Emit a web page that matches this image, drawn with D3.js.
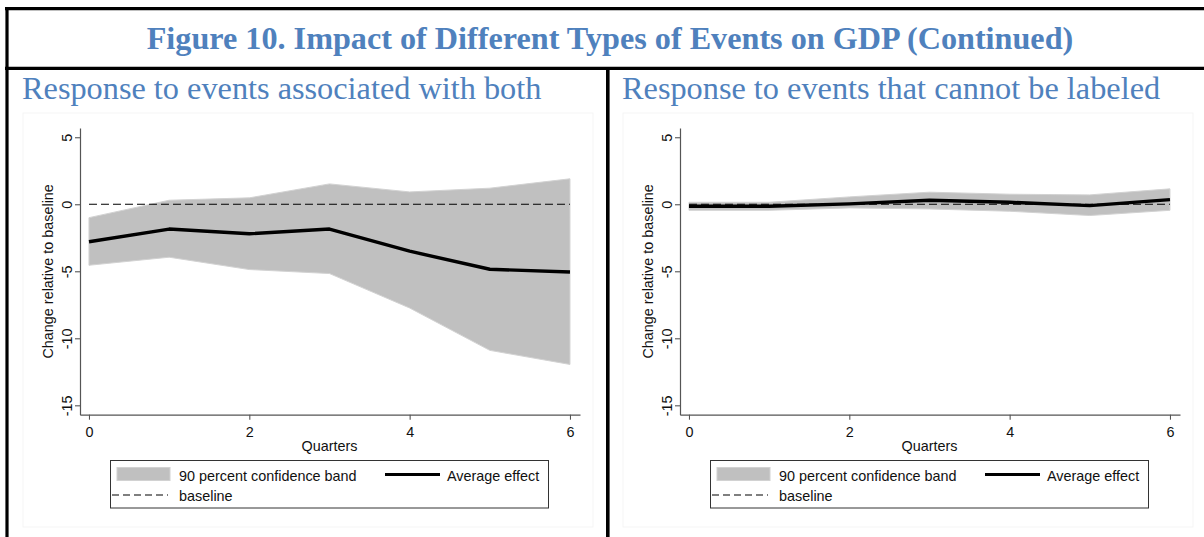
<!DOCTYPE html>
<html>
<head>
<meta charset="utf-8">
<script src="https://cdn.jsdelivr.net/npm/d3@7/dist/d3.min.js"></script>
<style>
  html, body { margin: 0; padding: 0; background: #fff; }
  svg { display: block; }
</style>
</head>
<body>
<svg id="fig" width="1204" height="537"></svg>
<script>
// Horizon in quarters after the event
const quarters = [0, 1, 2, 3, 4, 5, 6];

// Events associated with both
const bothMean  = [-2.8, -1.85, -2.2, -1.85, -3.5, -4.85, -5.05];
const bothUpper = [-1.0, 0.3, 0.48, 1.52, 0.92, 1.2, 1.9];
const bothLower = [-4.55, -3.95, -4.87, -5.17, -7.74, -10.9, -11.95];

// Events that cannot be labeled
const unlMean  = [-0.15, -0.15, 0.03, 0.3, 0.15, -0.1, 0.35];
const unlUpper = [0.15, 0.15, 0.55, 0.9, 0.75, 0.7, 1.15];
const unlLower = [-0.45, -0.45, -0.27, -0.35, -0.52, -0.84, -0.45];

const yTicks = [5, 0, -5, -10, -15];
const xTicks = [0, 2, 4, 6];

const figTitle = "Figure 10. Impact of Different Types of Events on GDP (Continued)";
const panelTitles = ["Response to events associated with both", "Response to events that cannot be labeled"];
const yLabel = "Change relative to baseline";
const xLabel = "Quarters";
const legendLabels = ["90 percent confidence band", "Average effect", "baseline"];

const BLUE = "#4f81bd";
const BAND = "#c0c0c0";
const SERIF = "'Liberation Serif', 'Times New Roman', serif";
const SANS = "'Liberation Sans', Arial, sans-serif";
const FS = 14.4;

const svg = d3.select("#fig");

// Frame and figure title
svg.append("rect").attr("x", 0).attr("y", 0).attr("width", 1204).attr("height", 537).attr("fill", "#fff");
svg.append("text")
  .attr("x", 610).attr("y", 49)
  .attr("text-anchor", "middle")
  .attr("font-family", SERIF).attr("font-weight", "bold").attr("font-size", 32.2)
  .attr("fill", BLUE)
  .text(figTitle);

const frame = svg.append("g").attr("stroke", "#000").attr("stroke-width", 3.2);
frame.append("line").attr("x1", 5).attr("x2", 1204).attr("y1", 8.7).attr("y2", 8.7);
frame.append("line").attr("x1", 5).attr("x2", 1204).attr("y1", 68.3).attr("y2", 68.3);
frame.append("line").attr("x1", 7).attr("x2", 7).attr("y1", 7).attr("y2", 537);
frame.append("line").attr("x1", 607.8).attr("x2", 607.8).attr("y1", 68).attr("y2", 537).attr("stroke-width", 3.6);

function panel(offsetX, title, mean, upper, lower) {
  const g = svg.append("g").attr("transform", `translate(${offsetX},0)`);

  // faint graph region outline
  g.append("rect")
    .attr("x", 23).attr("y", 113).attr("width", 570).attr("height", 414)
    .attr("fill", "none").attr("stroke", "#f5f5f5").attr("stroke-width", 1);

  g.append("text")
    .attr("x", 22).attr("y", 99)
    .attr("font-family", SERIF).attr("font-size", 32.3)
    .attr("fill", BLUE)
    .text(title);

  const x = d3.scaleLinear().domain([-0.112, 6.125]).range([80, 580]);
  const y = d3.scaleLinear().domain([-15.7, 5.69]).range([414.7, 128]);

  // confidence band
  const area = d3.area()
    .x((d, i) => x(quarters[i]))
    .y0((d, i) => y(lower[i]))
    .y1((d, i) => y(upper[i]));
  g.append("path")
    .datum(quarters)
    .attr("d", area)
    .attr("fill", BAND)
    .attr("stroke", "#d2d2d2").attr("stroke-width", 1);

  // baseline
  g.append("line")
    .attr("x1", x(0)).attr("x2", x(6))
    .attr("y1", y(0)).attr("y2", y(0))
    .attr("stroke", "#000").attr("stroke-width", 1.1)
    .attr("stroke-dasharray", "8,4");

  // average effect
  const line = d3.line()
    .x((d, i) => x(quarters[i]))
    .y((d, i) => y(mean[i]));
  g.append("path")
    .datum(mean)
    .attr("d", line)
    .attr("fill", "none")
    .attr("stroke", "#000").attr("stroke-width", 3.4)
    .attr("stroke-linejoin", "round");

  // y axis
  const yAxis = g.append("g").attr("transform", "translate(80,0)")
    .call(d3.axisLeft(y).tickValues(yTicks).tickSize(5).tickSizeOuter(0).tickFormat(d3.format("d")));
  yAxis.select(".domain").attr("stroke", "#555").attr("stroke-width", 1.2);
  yAxis.selectAll(".tick line").attr("stroke", "#555").attr("stroke-width", 1.1);
  yAxis.selectAll(".tick text")
    .attr("x", null).attr("dy", null)
    .attr("transform", "translate(-8,0) rotate(-90)")
    .attr("text-anchor", "middle")
    .attr("font-family", SANS).attr("font-size", FS).attr("fill", "#111")
    .text(d => d < 0 ? "-" + Math.abs(d) : d);

  // x axis
  const xAxis = g.append("g").attr("transform", "translate(0,414.7)")
    .call(d3.axisBottom(x).tickValues(xTicks).tickSize(5).tickSizeOuter(0).tickFormat(d3.format("d")));
  xAxis.select(".domain").attr("stroke", "#555").attr("stroke-width", 1.2);
  xAxis.selectAll(".tick line").attr("stroke", "#555").attr("stroke-width", 1.1);
  xAxis.selectAll(".tick text")
    .attr("y", 22.5).attr("dy", null)
    .attr("font-family", SANS).attr("font-size", FS).attr("fill", "#111");

  // axis titles
  g.append("text")
    .attr("transform", `translate(53,${(128 + 414.7) / 2}) rotate(-90)`)
    .attr("text-anchor", "middle")
    .attr("font-family", SANS).attr("font-size", FS).attr("fill", "#111")
    .text(yLabel);
  g.append("text")
    .attr("x", (x(0) + x(6)) / 2).attr("y", 451)
    .attr("text-anchor", "middle")
    .attr("font-family", SANS).attr("font-size", FS).attr("fill", "#111")
    .text(xLabel);

  // legend
  const lg = g.append("g");
  lg.append("rect")
    .attr("x", 110.5).attr("y", 460.5).attr("width", 438).attr("height", 47.5)
    .attr("fill", "#fff").attr("stroke", "#333").attr("stroke-width", 1);
  lg.append("rect")
    .attr("x", 117).attr("y", 467.5).attr("width", 53).attr("height", 13)
    .attr("fill", BAND).attr("stroke", "#d2d2d2").attr("stroke-width", 1);
  lg.append("text")
    .attr("x", 179).attr("y", 480.5)
    .attr("font-family", SANS).attr("font-size", FS).attr("fill", "#111")
    .text(legendLabels[0]);
  lg.append("line")
    .attr("x1", 385).attr("x2", 440).attr("y1", 474.5).attr("y2", 474.5)
    .attr("stroke", "#000").attr("stroke-width", 3.2);
  lg.append("text")
    .attr("x", 447).attr("y", 480.5)
    .attr("font-family", SANS).attr("font-size", FS).attr("fill", "#111")
    .text(legendLabels[1]);
  lg.append("line")
    .attr("x1", 112).attr("x2", 168).attr("y1", 495).attr("y2", 495)
    .attr("stroke", "#000").attr("stroke-width", 1.1)
    .attr("stroke-dasharray", "7,4");
  lg.append("text")
    .attr("x", 179).attr("y", 500.5)
    .attr("font-family", SANS).attr("font-size", FS).attr("fill", "#111")
    .text(legendLabels[2]);
}

panel(0, panelTitles[0], bothMean, bothUpper, bothLower);
panel(600, panelTitles[1], unlMean, unlUpper, unlLower);
</script>
</body>
</html>
